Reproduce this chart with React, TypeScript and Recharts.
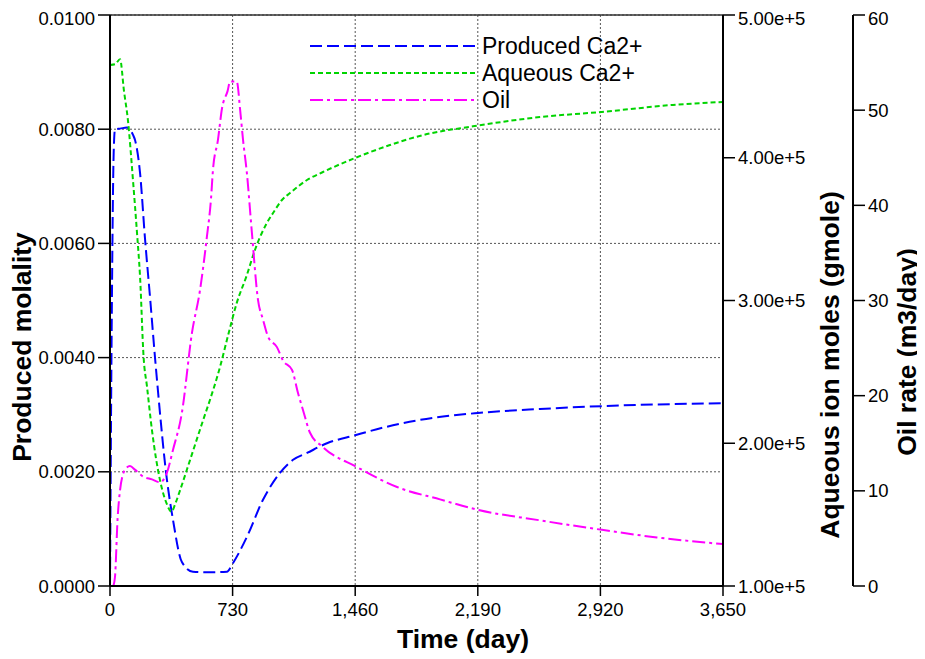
import React from 'react';
import { LineChart, Line, XAxis, YAxis, CartesianGrid, Legend, ReferenceLine } from 'recharts';

const FONT = '"Liberation Sans", Arial, Helvetica, sans-serif';

// ---- Data ----
const timeTicks = [0, 730, 1460, 2190, 2920, 3650];
const molalityTicks = [0, 0.002, 0.004, 0.006, 0.008, 0.01];
const aqueousTicks = [100000, 200000, 300000, 400000, 500000];
const oilTicks = [0, 10, 20, 30, 40, 50, 60];

const producedDays = [0, 10, 22, 30, 60, 100, 137, 149, 179, 208, 240, 268, 280, 339, 375, 428, 494, 600, 696, 732, 815, 911, 1012, 1090, 1173, 1292, 1459, 1649, 1846, 2191, 2560, 2929, 3257, 3650];
const producedMolality = [0, 0.0045, 0.0076, 0.008, 0.00801, 0.00803, 0.0079, 0.00781, 0.00723, 0.0061, 0.005, 0.004, 0.0036, 0.00186, 0.00116, 0.00042, 0.00025, 0.00024, 0.00025, 0.0004, 0.00086, 0.00151, 0.00198, 0.00221, 0.00233, 0.0025, 0.00264, 0.00279, 0.00291, 0.00303, 0.0031, 0.00315, 0.00318, 0.0032];

const aqueousDays = [0, 30, 60, 83, 107, 137, 161, 179, 200, 220, 250, 298, 340, 365, 390, 417, 476, 554, 595, 637, 655, 704, 754, 814, 863, 934, 971, 1024, 1072, 1173, 1268, 1459, 1667, 1864, 2161, 2560, 2929, 3352, 3650];
const aqueousMoles = [465000, 465500, 469000, 447000, 426000, 384000, 347000, 316500, 260400, 240000, 209000, 174000, 157000, 152000, 158000, 167000, 188000, 216000, 230300, 246000, 253400, 276000, 298000, 317500, 335400, 354300, 361300, 370400, 375300, 384400, 390000, 399800, 408900, 415900, 422000, 428500, 432100, 437000, 439100];

const oilDays = [20, 30, 45, 60, 75, 89, 119, 150, 197, 250, 298, 339, 375, 428, 488, 536, 577, 601, 613, 643, 667, 700, 715, 755, 775, 792, 815, 845, 881, 911, 941, 994, 1030, 1084, 1119, 1149, 1191, 1268, 1470, 1709, 1965, 2191, 2560, 2929, 3257, 3650];
const oilRate = [0, 1, 7, 10.1, 11.6, 12.2, 12.6, 12.2, 11.5, 11.2, 10.9, 11.9, 14.3, 18.2, 26.6, 31.1, 36.7, 40.6, 43.7, 46.9, 50.2, 52.0, 53.0, 53.0, 50.0, 46.9, 43.4, 37.1, 30.1, 28.0, 26.2, 25.1, 23.7, 22.7, 20.3, 18.5, 16.1, 14.6, 12.5, 10.4, 9.1, 8.0, 6.9, 5.9, 5.1, 4.4];

const seriesNames = ['Produced Ca2+', 'Aqueous Ca2+', 'Oil'];
const seriesColors = ['#0000ff', '#00d400', '#ff00ff'];
const seriesDashes = ['12 5', '5 3', '13 4 3 4'];

const toPoints = (xs: number[], ys: number[]) => xs.map((x, i) => ({ x, y: ys[i] }));
const producedData = toPoints(producedDays, producedMolality);
const aqueousData = toPoints(aqueousDays, aqueousMoles);
const oilData = toPoints(oilDays, oilRate);

const AxisTitle = (props: any) => {
  const { tx, ty, rot, text } = props;
  return (
    <text
      x={tx}
      y={ty}
      transform={rot ? `rotate(${rot} ${tx} ${ty})` : undefined}
      textAnchor="middle"
      dominantBaseline="central"
      fontFamily={FONT}
      fontWeight="bold"
      fontSize={26.5}
      fill="#000"
    >
      {text}
    </text>
  );
};

const renderLegend = () => (
  <svg width={420} height={80} style={{ display: 'block', overflow: 'visible' }}>
    {seriesNames.map((name, i) => {
      const y = 8 + i * 27;
      return (
        <g key={name}>
          <line x1={0} y1={y} x2={165} y2={y} stroke={seriesColors[i]} strokeWidth={2} strokeDasharray={seriesDashes[i]} />
          <text x={172} y={y} dominantBaseline="central" fontFamily={FONT} fontSize={23} fill="#000">
            {name}
          </text>
        </g>
      );
    })}
  </svg>
);

const tickStyle = { fill: '#000', fontSize: 18.5, fontFamily: FONT };
const axisLineStyle = { stroke: '#000', strokeWidth: 2 };
const tickLineStyle = { stroke: '#000', strokeWidth: 1.5 };

export default function App() {
  return (
    <LineChart width={917} height={651} margin={{ top: 7, right: 0, bottom: 0, left: 0 }}>
      <CartesianGrid yAxisId="mol" stroke="#555" strokeDasharray="2 2" strokeWidth={1} />
      <XAxis
        dataKey="x"
        type="number"
        domain={[0, 3650]}
        ticks={timeTicks}
        tickFormatter={(v: number) => v.toLocaleString('en-US')}
        height={73}
        tickSize={10}
        tickMargin={7}
        tick={tickStyle}
        axisLine={axisLineStyle}
        tickLine={tickLineStyle}
        allowDataOverflow
        label={<AxisTitle tx={455} ty={631} rot={0} text="Time (day)" />}
      />
      <YAxis
        yAxisId="mol"
        orientation="left"
        type="number"
        domain={[0, 0.01]}
        ticks={molalityTicks}
        tickFormatter={(v: number) => v.toFixed(4)}
        width={102}
        tickSize={12}
        tickMargin={3}
        tick={tickStyle}
        axisLine={axisLineStyle}
        tickLine={tickLineStyle}
        allowDataOverflow
        label={<AxisTitle tx={14} ty={339} rot={-90} text="Produced molality" />}
      />
      <YAxis
        yAxisId="aq"
        orientation="right"
        type="number"
        domain={[100000, 500000]}
        ticks={aqueousTicks}
        tickFormatter={(v: number) => v.toExponential(2)}
        width={130}
        tickSize={12}
        tickMargin={3}
        tick={tickStyle}
        axisLine={axisLineStyle}
        tickLine={tickLineStyle}
        allowDataOverflow
        label={<AxisTitle tx={822} ty={357} rot={-90} text="Aqueous ion moles (gmole)" />}
      />
      <YAxis
        yAxisId="oil"
        orientation="right"
        type="number"
        domain={[0, 60]}
        ticks={oilTicks}
        width={72}
        tickSize={12}
        tickMargin={3}
        tick={tickStyle}
        axisLine={axisLineStyle}
        tickLine={tickLineStyle}
        allowDataOverflow
        label={<AxisTitle tx={899} ty={344} rot={-90} text="Oil rate (m3/day)" />}
      />
      <ReferenceLine yAxisId="mol" y={0.01} stroke="#333" strokeWidth={1.5} />
      <Legend
        layout="vertical"
        align="center"
        verticalAlign="middle"
        content={renderLegend}
        wrapperStyle={{ position: 'absolute', left: 302, top: 30, width: 420, height: 80 }}
      />
      <Line
        data={producedData}
        yAxisId="mol"
        dataKey="y"
        name={seriesNames[0]}
        type="monotone"
        stroke={seriesColors[0]}
        strokeWidth={2}
        strokeDasharray={seriesDashes[0]}
        dot={false}
        activeDot={false}
        isAnimationActive={false}
      />
      <Line
        data={aqueousData}
        yAxisId="aq"
        dataKey="y"
        name={seriesNames[1]}
        type="monotone"
        stroke={seriesColors[1]}
        strokeWidth={2}
        strokeDasharray={seriesDashes[1]}
        dot={false}
        activeDot={false}
        isAnimationActive={false}
      />
      <Line
        data={oilData}
        yAxisId="oil"
        dataKey="y"
        name={seriesNames[2]}
        type="monotone"
        stroke={seriesColors[2]}
        strokeWidth={2}
        strokeDasharray={seriesDashes[2]}
        dot={false}
        activeDot={false}
        isAnimationActive={false}
      />
    </LineChart>
  );
}
